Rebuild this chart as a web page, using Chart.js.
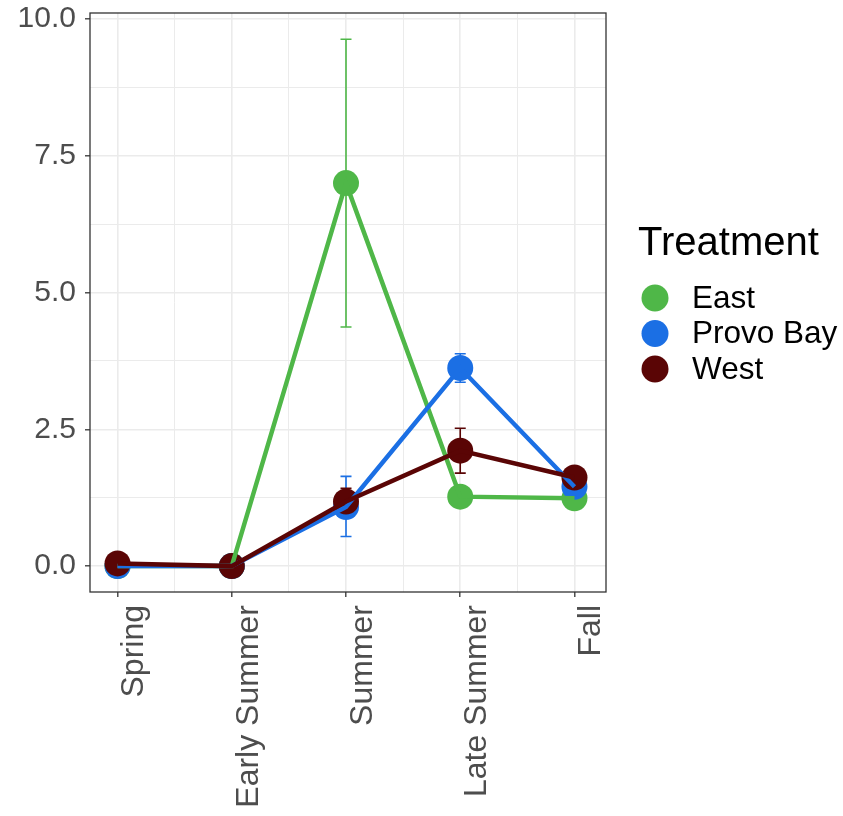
<!DOCTYPE html>
<html>
<head>
<meta charset="utf-8">
<script src="https://cdn.jsdelivr.net/npm/chart.js@4/dist/chart.umd.min.js"></script>
<style>
  html, body { margin: 0; padding: 0; background: #ffffff; }
  #wrap { width: 843px; height: 816px; }
</style>
</head>
<body>
<div id="wrap"><canvas id="chart" width="843" height="816"></canvas></div>
<script>
// Seasons along the x axis
const categories = ['Spring', 'Early Summer', 'Summer', 'Late Summer', 'Fall'];

// Mean values per treatment
const eastValues  = [0, 0, 7.0, 1.27, 1.24];
const provoValues = [0, 0, 1.08, 3.62, 1.45];
const westValues  = [0.05, 0, 1.18, 2.11, 1.62];

// Error bar ends per treatment
const eastLow   = [0, 0, 4.37, 1.27, 1.24];
const eastHigh  = [0, 0, 9.63, 1.27, 1.24];
const provoLow  = [0, 0, 0.54, 3.36, 1.24];
const provoHigh = [0, 0, 1.64, 3.88, 1.70];
const westLow   = [0.05, 0, 0.92, 1.70, 1.52];
const westHigh  = [0.05, 0, 1.42, 2.52, 1.72];

const yTicks = [0, 2.5, 5, 7.5, 10];

const series = [
  { name: 'East',      color: '#4fb748', values: eastValues,  low: eastLow,  high: eastHigh },
  { name: 'Provo Bay', color: '#1b6fe4', values: provoValues, low: provoLow, high: provoHigh },
  { name: 'West',      color: '#5a0505', values: westValues,  low: westLow,  high: westHigh }
];

const FONT = "'Liberation Sans', Arial, sans-serif";

function toPoints(values) {
  return values.map((v, i) => ({ x: i + 1, y: v }));
}

// ggplot draws all points first, then the lines on top
const datasets = [];
series.forEach((s, i) => {
  datasets.push({
    label: s.name + ' points',
    data: toPoints(s.values),
    showLine: false,
    pointRadius: 13,
    pointHoverRadius: 13,
    pointBorderWidth: 0,
    pointBackgroundColor: s.color,
    borderColor: s.color,
    order: 10 - i
  });
});
series.forEach((s, i) => {
  datasets.push({
    label: s.name,
    data: toPoints(s.values),
    showLine: true,
    borderColor: s.color,
    borderWidth: 4.5,
    pointRadius: 0,
    tension: 0,
    order: 5 - i
  });
});

// error bars, drawn under the points
const errorBars = {
  id: 'errorBars',
  beforeDatasetsDraw(chart) {
    const { ctx, scales: { x, y } } = chart;
    ctx.save();
    ctx.lineWidth = 1.6;
    series.forEach(s => {
      ctx.strokeStyle = s.color;
      s.values.forEach((v, i) => {
        const px = x.getPixelForValue(i + 1);
        const top = y.getPixelForValue(s.high[i]);
        const bot = y.getPixelForValue(s.low[i]);
        ctx.beginPath();
        ctx.moveTo(px, top); ctx.lineTo(px, bot);
        ctx.moveTo(px - 5.5, top); ctx.lineTo(px + 5.5, top);
        ctx.moveTo(px - 5.5, bot); ctx.lineTo(px + 5.5, bot);
        ctx.stroke();
      });
    });
    ctx.restore();
  }
};

// panel border and legend on the right
const panelAndLegend = {
  id: 'panelAndLegend',
  afterDraw(chart) {
    const { ctx, chartArea: a } = chart;
    ctx.save();
    ctx.strokeStyle = '#333333';
    ctx.lineWidth = 1.3;
    ctx.strokeRect(a.left, a.top, a.right - a.left, a.bottom - a.top);

    ctx.fillStyle = '#000000';
    ctx.textAlign = 'left';
    ctx.textBaseline = 'alphabetic';
    ctx.font = '40px ' + FONT;
    ctx.fillText('Treatment', 638, 255);

    ctx.font = '31.5px ' + FONT;
    ctx.textBaseline = 'middle';
    series.forEach((s, i) => {
      const cy = 298 + i * 35.5;
      ctx.fillStyle = s.color;
      ctx.beginPath();
      ctx.arc(655, cy, 13.5, 0, Math.PI * 2);
      ctx.fill();
      ctx.fillStyle = '#000000';
      ctx.fillText(s.name, 692, cy + 1);
    });
    ctx.restore();
  }
};

const isMajorX = v => Math.abs(v - Math.round(v)) < 1e-6;
const isMajorY = v => yTicks.some(t => Math.abs(t - v) < 1e-6);

new Chart(document.getElementById('chart'), {
  type: 'scatter',
  data: { datasets },
  options: {
    responsive: false,
    animation: false,
    layout: { padding: { top: 10, right: 237, left: 0, bottom: 0 } },
    plugins: {
      legend: { display: false },
      tooltip: { enabled: false },
      title: { display: false }
    },
    scales: {
      x: {
        type: 'linear',
        min: 0.759,
        max: 5.276,
        afterFit(scale) {
          scale.height = 224;
          scale.paddingLeft = 0;
          scale.paddingRight = 0;
        },
        border: { display: false },
        grid: {
          color: '#ebebeb',
          lineWidth: c => (c.tick && isMajorX(c.tick.value)) ? 1.6 : 1.0,
          tickColor: c => (c.tick && isMajorX(c.tick.value)) ? '#333333' : 'rgba(0,0,0,0)',
          tickLength: 5,
          tickWidth: 1.3
        },
        ticks: {
          stepSize: 0.5,
          includeBounds: false,
          autoSkip: false,
          minRotation: 90,
          maxRotation: 90,
          labelOffset: 17,
          padding: 8,
          color: '#4d4d4d',
          font: { family: FONT, size: 32 },
          callback: v => isMajorX(v) ? categories[Math.round(v) - 1] : ''
        }
      },
      y: {
        type: 'linear',
        min: -0.473,
        max: 10.109,
        afterFit(scale) {
          scale.width = 90;
          scale.paddingTop = 0;
          scale.paddingBottom = 0;
        },
        border: { display: false },
        grid: {
          color: '#ebebeb',
          lineWidth: c => (c.tick && isMajorY(c.tick.value)) ? 1.6 : 1.0,
          tickColor: c => (c.tick && isMajorY(c.tick.value)) ? '#333333' : 'rgba(0,0,0,0)',
          tickLength: 5,
          tickWidth: 1.3
        },
        ticks: {
          stepSize: 1.25,
          includeBounds: false,
          autoSkip: false,
          padding: 9,
          color: '#4d4d4d',
          font: { family: FONT, size: 30 },
          callback: v => isMajorY(v) ? v.toFixed(1) : ''
        }
      }
    }
  },
  plugins: [errorBars, panelAndLegend]
});
</script>
</body>
</html>
